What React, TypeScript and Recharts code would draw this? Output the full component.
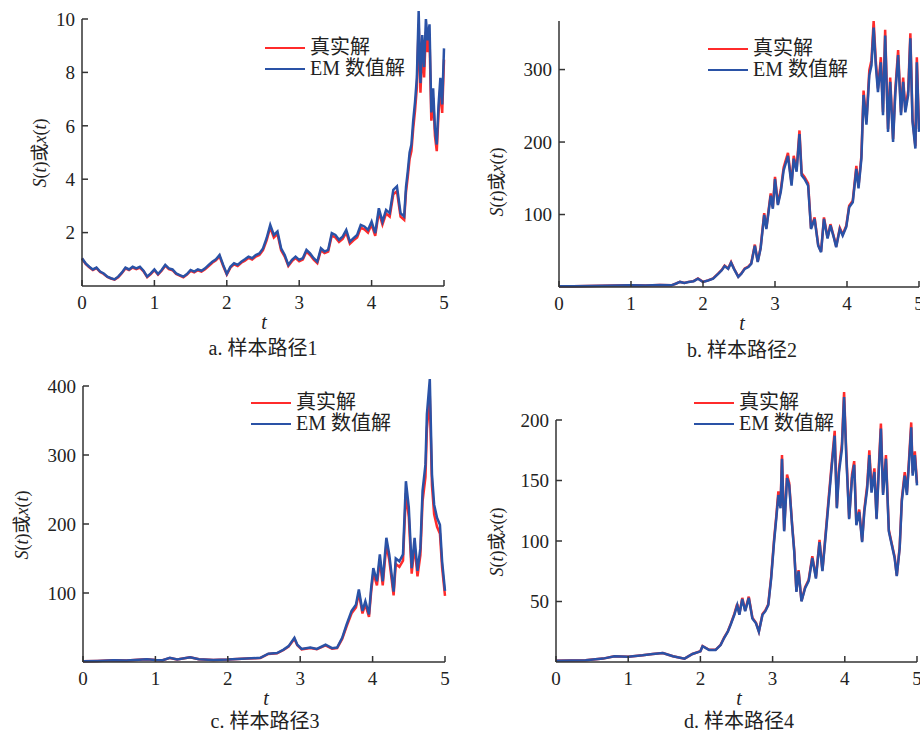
import React from 'react';
import { LineChart, Line, XAxis, YAxis, Legend } from 'recharts';

const FONT = '"Liberation Serif", "Times New Roman", Times, "DejaVu Serif", serif, "Noto Sans CJK SC"';
const RED = '#ff2b2b';
const BLUE = '#2a52a6';
const AXIS = '#333333';
const TEXT = '#222222';

const X_TICKS = [0, 1, 2, 3, 4, 5];
const SERIES_NAMES = ['真实解', 'EM 数值解'];
const CAPTIONS = ['a. 样本路径1', 'b. 样本路径2', 'c. 样本路径3', 'd. 样本路径4'];

// ---------- Panel a ----------
const tA = [
  0, 0.05, 0.1, 0.15, 0.2, 0.25, 0.3, 0.35, 0.4, 0.45,
  0.5, 0.55, 0.6, 0.65, 0.7, 0.75, 0.8, 0.85, 0.9, 0.95,
  1.0, 1.05, 1.1, 1.15, 1.2, 1.25, 1.3, 1.35, 1.4, 1.45,
  1.5, 1.55, 1.6, 1.65, 1.7, 1.75, 1.8, 1.85, 1.9, 1.95,
  2.0, 2.05, 2.1, 2.15, 2.2, 2.25, 2.3, 2.35, 2.4, 2.45,
  2.5, 2.55, 2.6, 2.65, 2.7, 2.75, 2.8, 2.85, 2.9, 2.95,
  3.0, 3.05, 3.1, 3.15, 3.2, 3.25, 3.3, 3.35, 3.4, 3.45,
  3.5, 3.55, 3.6, 3.65, 3.7, 3.75, 3.8, 3.85, 3.9, 3.95,
  4.0, 4.05, 4.1, 4.15, 4.2, 4.25, 4.3, 4.35, 4.4, 4.45,
  4.475, 4.5, 4.525, 4.55, 4.575, 4.6, 4.625, 4.65, 4.675, 4.7, 4.725,
  4.75, 4.775, 4.8, 4.825, 4.85, 4.875, 4.9, 4.925, 4.95, 4.975, 5.0,
];
const emA = [
  1.04, 0.85, 0.72, 0.62, 0.69, 0.54, 0.47, 0.35, 0.29, 0.25,
  0.35, 0.5, 0.69, 0.62, 0.72, 0.66, 0.72, 0.57, 0.35, 0.47,
  0.62, 0.45, 0.6, 0.79, 0.66, 0.62, 0.47, 0.41, 0.35, 0.45,
  0.6, 0.54, 0.62, 0.57, 0.66, 0.79, 0.91, 1.0, 1.16, 0.79,
  0.45, 0.72, 0.85, 0.79, 0.91, 1.0, 1.1, 1.04, 1.16, 1.22,
  1.41, 1.79, 2.29, 1.91, 2.04, 1.41, 1.16, 0.79, 0.98, 1.1,
  0.98, 1.04, 1.35, 1.22, 1.04, 0.91, 1.41, 1.29, 1.35, 1.98,
  1.91, 1.73, 1.85, 2.1, 1.66, 1.79, 1.91, 2.29, 2.23, 2.1,
  2.41, 1.98, 2.91, 2.41, 2.85, 2.73, 3.6, 3.73, 2.73, 2.6,
  3.7, 4.3, 5.0, 5.3, 6.2, 6.9, 7.8, 10.3, 7.6, 9.4, 8.2,
  10.0, 9.2, 9.8, 6.5, 7.4, 5.9, 5.3, 6.8, 7.8, 6.8, 8.9,
];
const exactA = [
  1.02, 0.83, 0.70, 0.60, 0.67, 0.52, 0.45, 0.34, 0.28, 0.24,
  0.33, 0.48, 0.66, 0.60, 0.69, 0.63, 0.69, 0.55, 0.33, 0.45,
  0.59, 0.43, 0.57, 0.76, 0.63, 0.59, 0.45, 0.39, 0.33, 0.43,
  0.57, 0.51, 0.59, 0.54, 0.63, 0.75, 0.87, 0.96, 1.11, 0.75,
  0.43, 0.69, 0.81, 0.75, 0.87, 0.95, 1.05, 0.99, 1.10, 1.16,
  1.34, 1.71, 2.19, 1.82, 1.95, 1.34, 1.10, 0.75, 0.93, 1.05,
  0.93, 0.99, 1.29, 1.16, 0.99, 0.86, 1.34, 1.23, 1.29, 1.89,
  1.82, 1.65, 1.76, 2.00, 1.58, 1.71, 1.82, 2.18, 2.12, 2.00,
  2.30, 1.88, 2.77, 2.30, 2.71, 2.60, 3.43, 3.55, 2.60, 2.48,
  3.52, 4.10, 4.76, 5.05, 5.90, 6.57, 7.43, 9.81, 7.24, 8.95, 7.81,
  9.52, 8.76, 9.33, 6.19, 7.05, 5.62, 5.05, 6.48, 7.43, 6.48, 8.48,
];
const yTicksA = [2, 4, 6, 8, 10];

// ---------- Panel b ----------
const tB = [
  0, 0.2, 0.4, 0.6, 0.8, 1.0, 1.2, 1.4,
  1.56, 1.62, 1.68, 1.74, 1.8, 1.87, 1.93,
  2.0, 2.07, 2.14, 2.21, 2.26, 2.3, 2.35, 2.39, 2.43, 2.49,
  2.53, 2.58, 2.63, 2.67, 2.72, 2.76, 2.8, 2.85, 2.88, 2.94, 2.97,
  3.0, 3.04, 3.08, 3.12, 3.18, 3.23, 3.26, 3.3, 3.34, 3.37, 3.41, 3.46,
  3.5, 3.55, 3.6, 3.64, 3.68, 3.73, 3.77, 3.82, 3.85, 3.9, 3.94, 3.99,
  4.03, 4.08, 4.13, 4.16, 4.2, 4.23, 4.27, 4.31, 4.34, 4.37, 4.4, 4.43, 4.47,
  4.5, 4.53, 4.57, 4.6, 4.64, 4.67, 4.71, 4.75, 4.78, 4.81, 4.85, 4.88, 4.91, 4.95, 4.97, 5.0,
];
const emB = [
  1.0, 1.1, 1.3, 1.6, 2.0, 2.4, 2.1, 2.6,
  2.3, 4.5, 7, 5.5, 7, 8, 11.5,
  7, 9, 11.5, 18, 23, 29, 25, 33.6, 25, 14,
  18, 25, 27.6, 32, 57, 34.5, 53, 99.5, 80, 126, 108,
  149, 113, 131, 161, 181, 140, 177, 159, 211, 154, 149, 140,
  80, 94, 57, 48, 94, 67, 85, 67, 55, 80, 71, 83,
  110, 117, 163, 136, 177, 265, 224, 292, 306, 358, 306, 269, 310,
  237, 347, 214, 283, 200, 265, 320, 237, 283, 241, 265, 343, 228, 191, 310, 214,
];
const exactB = [
  1.0, 1.1, 1.3, 1.6, 2.0, 2.4, 2.1, 2.6,
  2.3, 4.5, 7.1, 5.6, 7.1, 8.1, 11.8,
  7.1, 9.2, 11.8, 18.4, 23.5, 29.6, 25.5, 34.4, 25.5, 14.3,
  18.4, 25.5, 28.2, 32.7, 58.5, 35.2, 54.2, 102, 81.6, 129, 110,
  152, 115, 134, 165, 185, 143, 181, 162, 216, 157, 152, 143,
  81.6, 96, 58, 49, 96, 68.3, 86.7, 68.3, 56, 81.6, 72.4, 84.7,
  112, 119, 167, 139, 181, 271, 228, 299, 313, 367, 312, 274, 317,
  241, 355, 218, 289, 204, 271, 327, 241, 289, 245, 271, 350, 232, 194, 317, 218,
];
const yTicksB = [100, 200, 300];

// ---------- Panel c ----------
const tC = [
  0, 0.2, 0.42, 0.6, 0.88, 1.0, 1.1, 1.2, 1.3, 1.48,
  1.6, 1.8, 2.0, 2.26, 2.45, 2.56, 2.68, 2.77, 2.84, 2.92,
  2.96, 3.02, 3.14, 3.23, 3.35, 3.44, 3.51, 3.58, 3.64, 3.71,
  3.77, 3.81, 3.86, 3.9, 3.95, 3.98, 4.01, 4.06, 4.1, 4.14,
  4.19, 4.23, 4.29, 4.32, 4.37, 4.42, 4.46, 4.5, 4.54, 4.58,
  4.62, 4.66, 4.69, 4.73, 4.75, 4.79, 4.82, 4.85, 4.89, 4.93,
  4.96, 5.0,
];
const emC = [
  1, 1.5, 2.5, 2, 4, 3, 2.5, 6, 3.5, 7,
  4, 3, 3.5, 5, 6, 12, 13, 18, 23, 35,
  25, 19, 21, 19, 25, 20, 21, 35, 54, 74,
  83, 105, 74, 88, 69, 107, 136, 117, 156, 117,
  180, 156, 102, 150, 146, 156, 262, 224, 136, 180,
  132, 165, 248, 286, 359, 410, 272, 228, 209, 199,
  146, 103,
];
const exactC = [
  1, 1.5, 2.5, 2, 4, 3, 2.5, 5.9, 3.5, 6.9,
  4, 3, 3.5, 4.9, 5.9, 11.6, 12.6, 17.4, 22.2, 33.8,
  24.2, 18.4, 20.3, 18.4, 24.2, 19.4, 20.3, 33.5, 51.5, 70.5,
  79, 100, 70.3, 83.6, 65.5, 101.5, 129, 111, 148, 111,
  170, 148, 96.5, 142, 138, 147, 245, 210, 128, 169,
  124, 155, 233, 268, 338, 385, 256, 214, 196, 186,
  137, 96,
];
const yTicksC = [100, 200, 300, 400];

// ---------- Panel d ----------
const tD = [
  0, 0.41, 0.65, 0.81, 1.0, 1.2, 1.34, 1.48, 1.62, 1.78,
  1.89, 2.0, 2.03, 2.12, 2.21, 2.28, 2.33, 2.38, 2.42, 2.47,
  2.51, 2.54, 2.58, 2.62, 2.67, 2.72, 2.77, 2.81, 2.86, 2.9,
  2.94, 2.98, 3.02, 3.05, 3.08, 3.11, 3.13, 3.16, 3.2, 3.23,
  3.27, 3.3, 3.33, 3.36, 3.4, 3.45, 3.5, 3.55, 3.6, 3.65,
  3.69, 3.74, 3.78, 3.82, 3.86, 3.89, 3.92, 3.96, 3.99, 4.02,
  4.06, 4.1, 4.13, 4.16, 4.2, 4.24, 4.27, 4.31, 4.34, 4.37,
  4.41, 4.44, 4.47, 4.5, 4.53, 4.57, 4.61, 4.65, 4.69, 4.72,
  4.76, 4.79, 4.83, 4.86, 4.89, 4.92, 4.94, 4.97, 5.0,
];
const emD = [
  1, 1.4, 2.8, 4.7, 4.4, 5.5, 6.6, 7.4, 4.7, 2.8,
  6.6, 8.8, 13, 10, 10, 14, 20, 25, 31, 39,
  47, 39, 52, 42, 53, 36, 32, 25, 39, 42,
  47, 69, 99, 118, 138, 127, 168, 108, 152, 146,
  113, 91, 58, 75, 50, 61, 67, 86, 69, 99,
  75, 108, 135, 162, 187, 127, 157, 176, 219, 171,
  118, 152, 163, 113, 124, 99, 124, 143, 171, 140,
  157, 118, 157, 193, 138, 168, 108, 97, 86, 71,
  94, 133, 154, 138, 165, 194, 154, 171, 146,
];
const exactD = [
  1, 1.4, 2.8, 4.7, 4.4, 5.5, 6.6, 7.4, 4.7, 2.8,
  6.6, 8.9, 13.2, 10.1, 10.1, 14.2, 20.3, 25.4, 31.5, 39.7,
  48, 39.6, 53, 42.7, 54, 36.5, 32.4, 25.3, 39.6, 42.7,
  47.8, 70.3, 101, 120, 141, 129, 171, 109, 155, 148,
  114, 92, 58.5, 76, 50.5, 61.8, 68, 87.5, 70, 101,
  76, 110, 138, 165, 191, 128, 160, 180, 223, 174,
  119, 155, 166, 114, 126, 100, 126, 146, 175, 142,
  160, 119, 160, 197, 140, 171, 109, 98, 87, 71.5,
  95, 135, 157, 140, 168, 198, 156, 174, 148,
];
const yTicksD = [50, 100, 150, 200];

const build = (t: number[], exact: number[], em: number[]) =>
  t.map((v, i) => ({ t: v, exact: exact[i], em: em[i] }));

const axisStyle = { stroke: AXIS, strokeWidth: 1.5 };
const tickStyle = { fill: TEXT, fontSize: 19, fontFamily: FONT };

const LegendContent = (props: any) => {
  const payload = [...(props.payload || [])].sort(
    (a: any, b: any) => SERIES_NAMES.indexOf(a.value) - SERIES_NAMES.indexOf(b.value),
  );
  return (
    <div style={{ fontFamily: FONT, fontSize: 20, color: TEXT, lineHeight: '21px' }}>
      {payload.map((p: any, i: number) => (
        <div key={i} style={{ display: 'flex', alignItems: 'center', height: 21, whiteSpace: 'nowrap' }}>
          <span style={{ display: 'inline-block', width: 40, height: 0, borderTop: `2px solid ${p.color}`, marginRight: 5 }} />
          <span>{p.value}</span>
        </div>
      ))}
    </div>
  );
};

const Centered = ({ x, y, size, rotate, children }: any) => (
  <div
    style={{
      position: 'absolute', left: x, top: y,
      transform: `translate(-50%, -50%)${rotate ? ' rotate(-90deg)' : ''}`,
      whiteSpace: 'nowrap', lineHeight: 1, fontFamily: FONT, fontSize: size, color: TEXT,
    }}
  >
    {children}
  </div>
);

type PanelProps = {
  left: number; top: number; width: number; height: number;
  data: any[]; margin: any; yWidth: number; domain: [number, number]; ticks: number[];
  legend: { left: number; top: number };
  ylab: { x: number; y: number }; xlab: { x: number; y: number }; cap: { x: number; y: number };
  caption: string;
};

const Panel = (p: PanelProps) => (
  <div style={{ position: 'absolute', left: p.left, top: p.top, width: p.width, height: p.height }}>
    <LineChart width={p.width} height={p.height} data={p.data} margin={p.margin}>
      <XAxis
        dataKey="t" type="number" domain={[0, 5]} ticks={X_TICKS} interval={0} height={30}
        tickSize={-6} tickMargin={16} axisLine={axisStyle} tickLine={axisStyle} tick={tickStyle}
        allowDataOverflow
      />
      <YAxis
        type="number" domain={p.domain} ticks={p.ticks} interval={0} width={p.yWidth}
        tickSize={-6} tickMargin={13} axisLine={axisStyle} tickLine={axisStyle} tick={tickStyle}
        allowDataOverflow
      />
      <Legend
        layout="horizontal" verticalAlign="middle" align="center"
        wrapperStyle={{ left: p.legend.left, top: p.legend.top, width: 220, height: 42 }}
        content={LegendContent}
      />
      <Line dataKey="exact" name={SERIES_NAMES[0]} type="linear" stroke={RED} strokeWidth={2.5} dot={false} activeDot={false} isAnimationActive={false} />
      <Line dataKey="em" name={SERIES_NAMES[1]} type="linear" stroke={BLUE} strokeWidth={2.5} dot={false} activeDot={false} isAnimationActive={false} />
    </LineChart>
    <Centered x={p.ylab.x} y={p.ylab.y} size={18} rotate>
      <i>S</i>(<i>t</i>)或<i>x</i>(<i>t</i>)
    </Centered>
    <Centered x={p.xlab.x} y={p.xlab.y} size={20}><i>t</i></Centered>
    <Centered x={p.cap.x} y={p.cap.y} size={20}>{p.caption}</Centered>
  </div>
);

export default function App() {
  return (
    <div style={{ position: 'relative', width: 920, height: 733, background: '#fff', overflow: 'hidden' }}>
      <style>{'body{margin:0} .recharts-wrapper [clip-path]{clip-path:none !important}'}</style>
      <Panel
        left={0} top={0} width={460} height={370}
        data={build(tA, exactA, emA)} margin={{ top: 19, right: 16, bottom: 54, left: 0 }}
        yWidth={82} domain={[0, 10]} ticks={yTicksA}
        legend={{ left: 265, top: 37 }} ylab={{ x: 40, y: 153 }} xlab={{ x: 264, y: 322 }} cap={{ x: 263, y: 348 }}
        caption={CAPTIONS[0]}
      />
      <Panel
        left={460} top={0} width={460} height={370}
        data={build(tB, exactB, emB)} margin={{ top: 21, right: 1, bottom: 53, left: 0 }}
        yWidth={99} domain={[0, 367]} ticks={yTicksB}
        legend={{ left: 248, top: 38 }} ylab={{ x: 37, y: 182 }} xlab={{ x: 282, y: 323 }} cap={{ x: 282, y: 350 }}
        caption={CAPTIONS[1]}
      />
      <Panel
        left={0} top={370} width={460} height={363}
        data={build(tC, exactC, emC)} margin={{ top: 16, right: 15, bottom: 41, left: 0 }}
        yWidth={83} domain={[0, 400]} ticks={yTicksC}
        legend={{ left: 251, top: 22 }} ylab={{ x: 22, y: 155 }} xlab={{ x: 266, y: 328 }} cap={{ x: 265, y: 351 }}
        caption={CAPTIONS[2]}
      />
      <Panel
        left={460} top={370} width={460} height={363}
        data={build(tD, exactD, emD)} margin={{ top: 50, right: 3, bottom: 41, left: 0 }}
        yWidth={96} domain={[0, 200]} ticks={yTicksD}
        legend={{ left: 234, top: 22 }} ylab={{ x: 37, y: 172 }} xlab={{ x: 279, y: 328 }} cap={{ x: 279, y: 351 }}
        caption={CAPTIONS[3]}
      />
    </div>
  );
}
